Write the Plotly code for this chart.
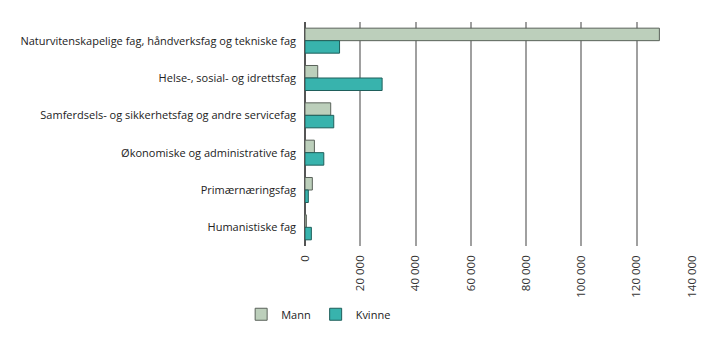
import plotly.graph_objects as go

categories = [
    "Naturvitenskapelige fag, håndverksfag og tekniske fag",
    "Helse-, sosial- og idrettsfag",
    "Samferdsels- og sikkerhetsfag og andre servicefag",
    "Økonomiske og administrative fag",
    "Primærnæringsfag",
    "Humanistiske fag",
]
mann = [128200, 4600, 9300, 3400, 2650, 500]
kvinne = [12500, 27900, 10400, 6800, 1200, 2300]

tick_vals = [0, 20000, 40000, 60000, 80000, 100000, 120000, 140000]
tick_text = ["0", "20 000", "40 000", "60 000", "80 000", "100 000", "120 000", "140 000"]

font_family = "Open Sans, Noto Sans, sans-serif"

fig = go.Figure()
fig.add_trace(go.Bar(
    y=categories, x=mann, orientation="h", name="Mann",
    marker=dict(color="#bccfbb", line=dict(color="#5a625a", width=1)),
))
fig.add_trace(go.Bar(
    y=categories, x=kvinne, orientation="h", name="Kvinne",
    marker=dict(color="#38b3ad", line=dict(color="#1f5f5b", width=1)),
))

fig.update_layout(
    width=723, height=341,
    margin=dict(l=305, r=31, t=22, b=92),
    barmode="group", bargap=0.33, bargroupgap=0,
    plot_bgcolor="white", paper_bgcolor="white",
    font=dict(family=font_family, size=11, color="#222"),
    showlegend=True,
    legend=dict(
        orientation="h", x=-0.165, xanchor="left", y=-0.24, yanchor="top",
        font=dict(size=11, color="#222"), itemwidth=30, traceorder="normal",
    ),
)
fig.update_xaxes(
    range=[0, 140000], tickvals=tick_vals, ticktext=tick_text, tickangle=-90,
    showgrid=True, gridcolor="#a0a0a0", gridwidth=1.5,
    zeroline=True, zerolinecolor="#555", zerolinewidth=1.5,
    showline=False, ticks="", ticklabelstandoff=6,
    tickfont=dict(size=11.5, color="#333"),
)
fig.update_yaxes(
    autorange="reversed", showgrid=False, ticks="", showline=False,
    ticklabelstandoff=8, tickfont=dict(size=11, color="#222"),
)

fig.write_html("out.html")
